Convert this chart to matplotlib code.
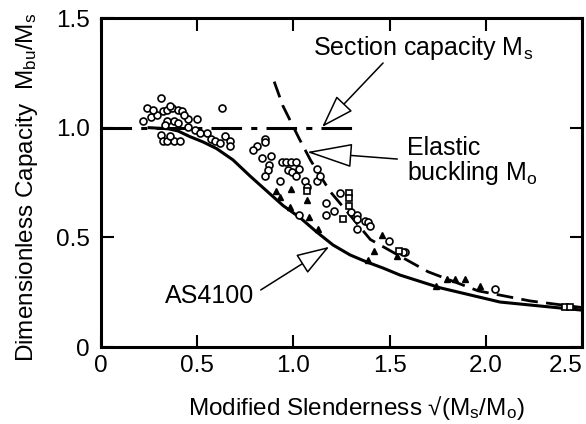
import numpy as np
import matplotlib.pyplot as plt

plt.rcParams['font.family'] = ['Liberation Sans', 'DejaVu Sans']
plt.rcParams['mathtext.fontset'] = 'custom'
plt.rcParams['mathtext.rm'] = 'Liberation Sans'
plt.rcParams['mathtext.it'] = 'Liberation Sans'

# AS4100 design curve
as_x = [0.25, 0.35, 0.40, 0.46, 0.53, 0.60, 0.686, 0.774, 0.863, 0.946, 1.034, 1.12,
        1.206, 1.294, 1.38, 1.466, 1.554, 1.762, 2.074, 2.50]
as_y = [1.0, 0.995, 0.985, 0.96, 0.935, 0.905, 0.853, 0.78, 0.71, 0.645, 0.59, 0.525,
        0.465, 0.42, 0.388, 0.36, 0.328, 0.27, 0.205, 0.168]

# elastic buckling curve
eb_x = [0.90, 0.945, 1.03, 1.09, 1.19, 1.40, 1.55, 1.70, 1.96, 2.23, 2.50]
eb_y = [1.21, 1.10, 0.95, 0.85, 0.71, 0.49, 0.416, 0.343, 0.256, 0.21, 0.18]

# section capacity line
sc_x = [0.0, 1.34]
sc_y = [1.0, 1.0]

# test results, open circles
circ_x = [0.314, 0.24, 0.22, 0.26, 0.32, 0.345, 0.37, 0.40, 0.42, 0.345, 0.38, 0.33, 0.40,
          0.45, 0.50, 0.45, 0.49, 0.31, 0.32, 0.345, 0.38, 0.41, 0.36, 0.515, 0.55, 0.57,
          0.59, 0.62, 0.645, 0.67, 0.67, 0.63, 0.29, 0.27, 0.36, 0.43,
          0.85, 0.85, 0.81, 0.79, 0.835, 0.885, 0.875, 0.87, 0.85, 0.94, 0.96, 0.99,
          1.015, 1.03, 0.97, 0.995, 1.015, 0.93, 1.06, 1.07, 1.12, 1.12, 1.14, 1.24,
          1.17, 1.21, 1.17, 1.30, 1.33, 1.33, 1.37, 1.39, 1.40, 1.33, 1.495, 1.58,
          1.57, 2.05, 1.03]
circ_y = [1.134, 1.09, 1.03, 1.05, 1.075, 1.08, 1.09, 1.08, 1.075, 1.03, 1.03, 1.01, 1.02,
          1.04, 1.04, 1.005, 0.99, 0.965, 0.94, 0.94, 0.94, 0.94, 0.96, 0.975, 0.975, 0.95,
          0.94, 0.93, 0.96, 0.94, 0.915, 1.09, 1.06, 1.08, 1.10, 1.06,
          0.95, 0.935, 0.915, 0.90, 0.86, 0.87, 0.83, 0.805, 0.78, 0.845, 0.845, 0.845,
          0.845, 0.81, 0.805, 0.80, 0.78, 0.755, 0.755, 0.73, 0.81, 0.755, 0.78, 0.70,
          0.655, 0.62, 0.60, 0.615, 0.60, 0.585, 0.575, 0.57, 0.55, 0.54, 0.485, 0.435,
          0.435, 0.265, 0.60]

# open squares
sq_x = [1.07, 1.29, 1.29, 1.29, 1.26, 1.55, 2.41, 2.44]
sq_y = [0.71, 0.70, 0.68, 0.645, 0.585, 0.44, 0.183, 0.183]

# filled triangles
tri_x = [0.91, 0.93, 1.07, 0.98, 1.08, 1.13, 1.42, 1.46, 1.39, 1.54, 1.74, 1.80,
         1.84, 1.89, 1.97, 0.99]
tri_y = [0.71, 0.685, 0.67, 0.64, 0.595, 0.54, 0.44, 0.51, 0.395, 0.415, 0.28, 0.31,
         0.31, 0.31, 0.28, 0.72]

xticks = [0, 0.5, 1.0, 1.5, 2.0, 2.5]
xticklabels = ['0', '0.5', '1.0', '1.5', '2.0', '2.5']
yticks = [0, 0.5, 1.0, 1.5]
yticklabels = ['0', '0.5', '1.0', '1.5']

fig = plt.figure(figsize=(5.86, 4.24), dpi=100)
ax = fig.add_axes([0.1724, 0.1816, 0.8208, 0.7759])

ax.plot(sc_x, sc_y, color='black', lw=2.2, dashes=[10, 3, 2, 3])
ax.plot(as_x, as_y, color='black', lw=2.2)
ax.plot(eb_x, eb_y, color='black', lw=2.0, dashes=[6, 3])

ax.plot(circ_x, circ_y, 'o', ms=5, mfc='white', mec='black', mew=1.2, clip_on=False)
ax.plot(sq_x, sq_y, 's', ms=4.5, mfc='white', mec='black', mew=1.2)
ax.plot(tri_x, tri_y, '^', ms=5, color='black')

ax.set_xlim(0, 2.5)
ax.set_ylim(0, 1.5)
ax.set_xticks(xticks)
ax.set_xticklabels(xticklabels)
ax.set_yticks(yticks)
ax.set_yticklabels(yticklabels)
ax.tick_params(direction='in', length=9, width=1.5, labelsize=17.5,
               top=True, right=True, pad=8)
ax.tick_params(axis='x', pad=6)
ax.get_xticklabels()[-1].set_ha('right')
for s in ax.spines.values():
    s.set_linewidth(2.2)

ax.set_xlabel(r'Modified Slenderness √(M$_\mathregular{s}$/M$_\mathregular{o}$)', fontsize=17.5)
ax.set_ylabel(r'Dimensionless Capacity  M$_\mathregular{bu}$/M$_\mathregular{s}$', fontsize=17.5)
ax.xaxis.set_label_coords(0.53, -0.143)
ax.yaxis.set_label_coords(-0.127, 0.486)

arr = dict(arrowstyle='-|>,head_length=1.5,head_width=0.5', fc='white', ec='black',
           lw=1.1, mutation_scale=14, shrinkA=0, shrinkB=0)
arr_long = dict(arr, arrowstyle='-|>,head_length=2.1,head_width=0.55')

ax.text(1.10, 1.33, r'Section capacity M$_\mathregular{s}$', fontsize=18,
        ha='left', va='baseline')
ax.annotate('', xy=(1.149, 1.003), xytext=(1.466, 1.295), arrowprops=arr)

ax.text(1.59, 0.845, 'Elastic\nbuckling M$_\\mathregular{o}$', fontsize=18,
        ha='left', va='center', linespacing=0.95)
ax.annotate('', xy=(1.07, 0.889), xytext=(1.54, 0.857), arrowprops=arr_long)

ax.text(0.33, 0.178, 'AS4100', fontsize=18, ha='left', va='bottom')
ax.annotate('', xy=(1.186, 0.457), xytext=(0.83, 0.26), arrowprops=arr)

fig.savefig('out.png', dpi=100)
